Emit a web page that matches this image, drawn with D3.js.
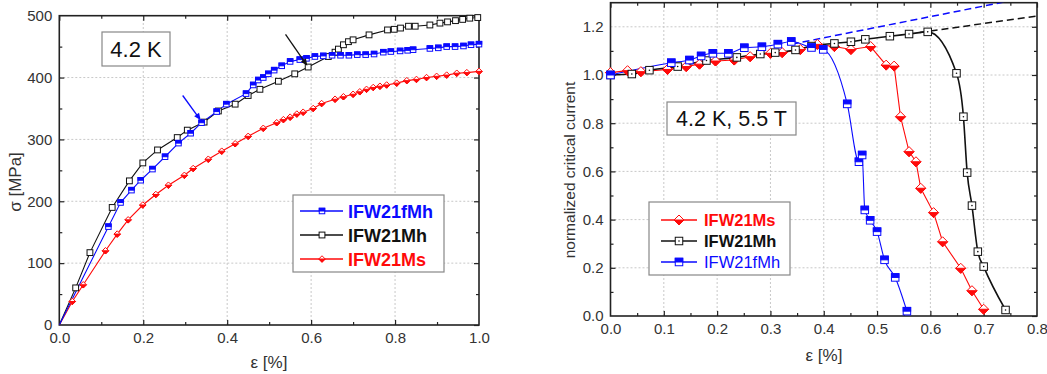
<!DOCTYPE html>
<html><head><meta charset="utf-8">
<script src="https://cdn.jsdelivr.net/npm/d3@7"></script>
<style>
body{margin:0;background:#fff;}
svg{display:block;}
text{font-family:"Liberation Sans",Arial,sans-serif;}
</style>
</head><body>
<svg id="c" width="1047" height="374"></svg>
<script>
// ---------- DATA: left panel (stress-strain, 4.2 K) ----------
const stressXTicks = [0, 0.2, 0.4, 0.6, 0.8, 1.0];
const stressYTicks = [0, 100, 200, 300, 400, 500];
const stressSeriesNames = ["IFW21fMh", "IFW21Mh", "IFW21Ms"];
const stressMh = [[0,0],[0.039,60],[0.073,117],[0.126,190],[0.167,233],[0.199,262],[0.234,283],[0.281,303],[0.305,315],[0.345,328],[0.379,346],[0.419,357],[0.450,371],[0.478,381],[0.522,394],[0.561,406],[0.593,417],[0.641,434],[0.657,441],[0.665,446],[0.677,453],[0.689,458],[0.700,461],[0.738,469],[0.782,477],[0.798,478],[0.813,480],[0.832,483],[0.848,483],[0.883,485],[0.907,488],[0.925,490],[0.944,492],[0.961,494],[0.978,496],[0.997,497]];
const stressFMh = [[0,0],[0.117,159],[0.146,198],[0.172,218],[0.194,234],[0.222,252],[0.252,272],[0.284,294],[0.313,310],[0.339,327],[0.375,345],[0.398,357],[0.445,374],[0.462,388],[0.474,396],[0.486,400],[0.498,406],[0.512,412],[0.530,419],[0.550,426],[0.573,429],[0.589,431],[0.609,434],[0.629,435],[0.650,436],[0.670,436],[0.690,436],[0.710,437],[0.730,437],[0.750,438],[0.772,441],[0.790,442],[0.812,443],[0.830,444],[0.843,445],[0.883,447],[0.903,448],[0.923,450],[0.943,450],[0.963,451],[0.981,453],[1.0,454]];
const stressMs = [[0,0],[0.031,38],[0.057,65],[0.110,120],[0.138,147],[0.164,170],[0.199,194],[0.230,211],[0.260,226],[0.298,242],[0.319,253],[0.355,268],[0.387,281],[0.419,293],[0.450,305],[0.486,318],[0.518,327],[0.534,332],[0.550,336],[0.566,341],[0.581,344],[0.605,350],[0.625,358],[0.657,365],[0.677,369],[0.700,373],[0.716,377],[0.732,381],[0.748,384],[0.764,386],[0.780,388],[0.804,391],[0.828,395],[0.851,397],[0.875,400],[0.899,402],[0.923,404],[0.947,407],[0.971,408],[1.0,410]];
const arrowFMh = [[0.294,371],[0.337,331]];
const arrowMh = [[0.539,470],[0.591,419]];

// ---------- DATA: right panel (normalized Ic, 4.2 K, 5.5 T) ----------
const icXTicks = [0, 0.1, 0.2, 0.3, 0.4, 0.5, 0.6, 0.7, 0.8];
const icYTicks = [0, 0.2, 0.4, 0.6, 0.8, 1.0, 1.2];
const icSeriesNames = ["IFW21Ms", "IFW21Mh", "IFW21fMh"];
const icMs = [[0,1.01],[0.032,1.018],[0.057,1.014],[0.107,1.023],[0.142,1.035],[0.167,1.045],[0.197,1.058],[0.232,1.062],[0.262,1.076],[0.300,1.090],[0.322,1.093],[0.356,1.106],[0.388,1.127],[0.420,1.118],[0.451,1.106],[0.488,1.118],[0.517,1.041],[0.532,1.037],[0.544,0.827],[0.560,0.682],[0.573,0.640],[0.582,0.530],[0.606,0.429],[0.623,0.308],[0.657,0.198],[0.678,0.105],[0.700,0.028]];
const icMh = [[0,1.0],[0.040,1.004],[0.073,1.020],[0.126,1.035],[0.180,1.060],[0.237,1.073],[0.281,1.087],[0.309,1.093],[0.347,1.104],[0.377,1.120],[0.420,1.131],[0.451,1.138],[0.478,1.148],[0.524,1.161],[0.560,1.170],[0.595,1.179],[0.649,1.007],[0.662,0.827],[0.669,0.595],[0.678,0.458],[0.689,0.267],[0.700,0.205],[0.741,0.025]];
const icFMh = [[0,1.0],[0.114,1.051],[0.148,1.062],[0.170,1.079],[0.192,1.090],[0.221,1.090],[0.251,1.113],[0.284,1.117],[0.314,1.128],[0.339,1.139],[0.377,1.114],[0.399,1.106],[0.444,0.880],[0.466,0.640],[0.472,0.668],[0.477,0.440],[0.487,0.397],[0.500,0.350],[0.514,0.233],[0.534,0.160],[0.556,0.020]];
const extrapFMh = [[0.34,1.128],[0.8,1.33]];
const extrapMh = [[0.58,1.176],[0.8,1.245]];

// ---------- drawing ----------
const BLUE = "#0a0aff", RED = "#ff0a0a", BLACK = "#111";
const svg = d3.select("#c");
const defs = svg.append("defs");

function marker(g, type, x, y, color, s) {
  const h = s / 2;
  if (type === "sq" || type === "sqDot" || type === "sqHalf") {
    g.append("rect").attr("x", x - h).attr("y", y - h).attr("width", s).attr("height", s)
      .attr("fill", "#fff").attr("stroke", color).attr("stroke-width", 1);
    if (type === "sqHalf") {
      g.append("rect").attr("x", x - h).attr("y", y - h).attr("width", s).attr("height", h)
        .attr("fill", color).attr("stroke", color).attr("stroke-width", 1);
    }
    if (type === "sqDot") {
      g.append("circle").attr("cx", x).attr("cy", y).attr("r", 0.8).attr("fill", color);
    }
  } else if (type === "dia") {
    const w = s / 2, hh = s / 2;
    g.append("path").attr("d", `M${x},${y-hh}L${x+w},${y}L${x},${y+hh}L${x-w},${y}Z`)
      .attr("fill", "#fff").attr("stroke", color).attr("stroke-width", 1);
    g.append("path").attr("d", `M${x-w},${y}L${x+w},${y}L${x},${y+hh}Z`)
      .attr("fill", color).attr("stroke", color).attr("stroke-width", 1);
  }
}

function panel(opt) {
  const x = d3.scaleLinear().domain(opt.xDomain).range(opt.xRange);
  const y = d3.scaleLinear().domain(opt.yDomain).range(opt.yRange);
  const g = svg.append("g");
  const clipId = "clip" + opt.id;
  defs.append("clipPath").attr("id", clipId).append("rect")
    .attr("x", opt.xRange[0]).attr("y", opt.yRange[1])
    .attr("width", opt.xRange[1] - opt.xRange[0]).attr("height", opt.yRange[0] - opt.yRange[1]);

  // grid
  const gg = g.append("g").attr("stroke", "#c8c8c8").attr("stroke-width", 1).attr("stroke-dasharray", "2,2");
  opt.xTicks.slice(1, -1).forEach(t => gg.append("line").attr("x1", x(t)).attr("x2", x(t)).attr("y1", opt.yRange[0]).attr("y2", opt.yRange[1]));
  opt.yGrid.forEach(t => gg.append("line").attr("y1", y(t)).attr("y2", y(t)).attr("x1", opt.xRange[0]).attr("x2", opt.xRange[1]));

  // axes
  const fmtX = d3.format(".1f"), fmtY = opt.fmtY;
  const axB = g.append("g").attr("transform", `translate(0,${opt.yRange[0]})`)
    .call(d3.axisBottom(x).tickValues(opt.xTicks).tickFormat(fmtX).tickSize(-5).tickPadding(opt.xPad));
  const axBm = g.append("g").attr("transform", `translate(0,${opt.yRange[0]})`)
    .call(d3.axisBottom(x).tickValues(opt.xMinor).tickFormat("").tickSize(-3));
  const axT = g.append("g").attr("transform", `translate(0,${opt.yRange[1]})`)
    .call(d3.axisTop(x).tickValues(opt.xTicks).tickFormat("").tickSize(-5));
  const axTm = g.append("g").attr("transform", `translate(0,${opt.yRange[1]})`)
    .call(d3.axisTop(x).tickValues(opt.xMinor).tickFormat("").tickSize(-3));
  const axL = g.append("g").attr("transform", `translate(${opt.xRange[0]},0)`)
    .call(d3.axisLeft(y).tickValues(opt.yTicks).tickFormat(fmtY).tickSize(-5).tickPadding(opt.yPad));
  const axLm = g.append("g").attr("transform", `translate(${opt.xRange[0]},0)`)
    .call(d3.axisLeft(y).tickValues(opt.yMinor).tickFormat("").tickSize(-3));
  const axR = g.append("g").attr("transform", `translate(${opt.xRange[1]},0)`)
    .call(d3.axisRight(y).tickValues(opt.yTicks).tickFormat("").tickSize(-5));
  const axRm = g.append("g").attr("transform", `translate(${opt.xRange[1]},0)`)
    .call(d3.axisRight(y).tickValues(opt.yMinor).tickFormat("").tickSize(-3));
  [axB, axBm, axT, axTm, axL, axLm, axR, axRm].forEach(a => {
    a.select(".domain").remove();
    a.selectAll(".tick line").attr("stroke", "#222").attr("stroke-width", 1.2);
    a.selectAll("text").attr("font-size", 15).attr("fill", "#333").attr("font-family", '"Liberation Sans",Arial,sans-serif');
  });
  axB.selectAll(".tick line").filter((d, i) => i === 0 || i === opt.xTicks.length - 1).remove();
  axL.selectAll(".tick line").filter((d, i) => i === 0 || i === opt.yTicks.length - 1).remove();

  // frame
  g.append("rect").attr("x", opt.xRange[0]).attr("y", opt.yRange[1])
    .attr("width", opt.xRange[1] - opt.xRange[0]).attr("height", opt.yRange[0] - opt.yRange[1])
    .attr("fill", "none").attr("stroke", "#222").attr("stroke-width", 1.6);

  // axis titles
  g.append("text").attr("x", opt.xTitlePos[0]).attr("y", opt.xTitlePos[1]).attr("text-anchor", "middle")
    .attr("font-size", 17).attr("fill", "#333").text(opt.xTitle);
  g.append("text").attr("transform", `translate(${opt.yTitlePos[0]},${opt.yTitlePos[1]}) rotate(-90)`)
    .attr("text-anchor", "middle").attr("font-size", opt.yTitleSize).attr("fill", "#333").text(opt.yTitle);

  const plot = g.append("g").attr("clip-path", `url(#${clipId})`);
  return { x, y, g, plot };
}

// ----- left panel -----
const L = panel({
  id: "L", xDomain: [0, 1], yDomain: [0, 500], xRange: [59.3, 479], yRange: [325, 15.7],
  xTicks: stressXTicks, yTicks: stressYTicks, yGrid: [100, 200, 300, 400],
  xMinor: [0.1, 0.3, 0.5, 0.7, 0.9], yMinor: [50, 150, 250, 350, 450],
  fmtY: d3.format("d"), xPad: 7, yPad: 7,
  xTitle: "ε [%]", xTitlePos: [269, 368], yTitle: "σ [MPa]", yTitlePos: [21, 182], yTitleSize: 17
});
const lineL = d3.line().x(d => L.x(d[0])).y(d => L.y(d[1]));
const leftSeries = [
  { data: stressMs, color: RED, type: "dia", size: 6.5 },
  { data: stressMh, color: BLACK, type: "sq", size: 5.8 },
  { data: stressFMh, color: BLUE, type: "sqHalf", size: 5.5 }
];
leftSeries.forEach(s => {
  L.plot.append("path").attr("d", lineL(s.data)).attr("fill", "none").attr("stroke", s.color).attr("stroke-width", 1.1);
});
leftSeries.forEach(s => {
  const mg = L.g.append("g");
  s.data.slice(1).forEach(d => marker(mg, s.type, L.x(d[0]), L.y(d[1]), s.color, s.size));
});
// arrows
function arrow(g, sc, pts, color) {
  const x1 = sc.x(pts[0][0]), y1 = sc.y(pts[0][1]), x2 = sc.x(pts[1][0]), y2 = sc.y(pts[1][1]);
  const a = Math.atan2(y2 - y1, x2 - x1), len = 7, wid = 3;
  g.append("line").attr("x1", x1).attr("y1", y1).attr("x2", x2 - Math.cos(a) * 4).attr("y2", y2 - Math.sin(a) * 4)
    .attr("stroke", color).attr("stroke-width", 1.3);
  const bx = x2 - Math.cos(a) * len, by = y2 - Math.sin(a) * len;
  g.append("path").attr("d", `M${x2},${y2}L${bx - Math.sin(a) * wid},${by + Math.cos(a) * wid}L${bx + Math.sin(a) * wid},${by - Math.cos(a) * wid}Z`)
    .attr("fill", color);
}
arrow(L.g, L, arrowFMh, BLUE);
arrow(L.g, L, arrowMh, BLACK);

// label box
L.g.append("rect").attr("x", 102).attr("y", 32).attr("width", 68).attr("height", 34)
  .attr("fill", "#fff").attr("stroke", "#888").attr("stroke-width", 1.2);
L.g.append("text").attr("x", 136).attr("y", 57).attr("text-anchor", "middle").attr("font-size", 22).attr("fill", "#111").text("4.2 K");

// legend left
L.g.append("rect").attr("x", 293).attr("y", 195).attr("width", 151).attr("height", 77)
  .attr("fill", "#fff").attr("stroke", "#888").attr("stroke-width", 1.2);
const legL = [
  { name: stressSeriesNames[0], s: leftSeries[2], y: 211 },
  { name: stressSeriesNames[1], s: leftSeries[1], y: 235 },
  { name: stressSeriesNames[2], s: leftSeries[0], y: 259 }
];
legL.forEach(e => {
  L.g.append("line").attr("x1", 300).attr("x2", 343).attr("y1", e.y).attr("y2", e.y).attr("stroke", e.s.color).attr("stroke-width", 1.3);
  marker(L.g, e.s.type, 322, e.y, e.s.color, e.s.size);
  L.g.append("text").attr("x", 348).attr("y", e.y + 6.5).attr("font-size", 18).attr("font-weight", "bold")
    .attr("fill", e.s.color).text(e.name);
});

// ----- right panel -----
const R = panel({
  id: "R", xDomain: [0, 0.8], yDomain: [0, 1.3], xRange: [610.5, 1037], yRange: [316, 2.7],
  xTicks: icXTicks, yTicks: icYTicks, yGrid: [0.2, 0.4, 0.6, 0.8, 1.0, 1.2],
  xMinor: [0.05, 0.15, 0.25, 0.35, 0.45, 0.55, 0.65, 0.75], yMinor: [0.1, 0.3, 0.5, 0.7, 0.9, 1.1],
  fmtY: d3.format(".1f"), xPad: 7, yPad: 7,
  xTitle: "ε [%]", xTitlePos: [824, 361], yTitle: "normalized critical current", yTitlePos: [575, 170], yTitleSize: 15.5
});
const lineR = d3.line().x(d => R.x(d[0])).y(d => R.y(d[1]));
const lineRs = d3.line().x(d => R.x(d[0])).y(d => R.y(d[1])).curve(d3.curveMonotoneX);
R.plot.append("path").attr("d", lineR(extrapFMh)).attr("fill", "none").attr("stroke", BLUE).attr("stroke-width", 1.5).attr("stroke-dasharray", "7,4");
R.plot.append("path").attr("d", lineR(extrapMh)).attr("fill", "none").attr("stroke", BLACK).attr("stroke-width", 1.5).attr("stroke-dasharray", "7,4");
const rightSeries = [
  { data: icMs, color: RED, type: "dia", size: 10, line: lineR, w: 1.1 },
  { data: icMh, color: BLACK, type: "sqDot", size: 7.5, line: lineRs, w: 1.6 },
  { data: icFMh, color: BLUE, type: "sqHalf", size: 7.5, line: lineRs, w: 1.1 }
];
rightSeries.forEach(s => {
  R.plot.append("path").attr("d", s.line(s.data)).attr("fill", "none").attr("stroke", s.color).attr("stroke-width", s.w);
});
rightSeries.forEach(s => {
  const mg = R.g.append("g");
  s.data.forEach(d => marker(mg, s.type, R.x(d[0]), R.y(d[1]), s.color, s.size));
});

// label box right
R.g.append("rect").attr("x", 667).attr("y", 102).attr("width", 129).attr("height", 33)
  .attr("fill", "#fff").attr("stroke", "#888").attr("stroke-width", 1.2);
R.g.append("text").attr("x", 731.5).attr("y", 126).attr("text-anchor", "middle").attr("font-size", 21.5).attr("fill", "#111").text("4.2 K, 5.5 T");

// legend right
R.g.append("rect").attr("x", 649).attr("y", 202).attr("width", 141).attr("height", 73)
  .attr("fill", "#fff").attr("stroke", "#888").attr("stroke-width", 1.2);
const legR = [
  { name: icSeriesNames[0], s: rightSeries[0], y: 220, bold: true },
  { name: icSeriesNames[1], s: rightSeries[1], y: 241, bold: true },
  { name: icSeriesNames[2], s: rightSeries[2], y: 262, bold: false }
];
legR.forEach(e => {
  R.g.append("line").attr("x1", 661).attr("x2", 697).attr("y1", e.y).attr("y2", e.y).attr("stroke", e.s.color).attr("stroke-width", 1.3);
  marker(R.g, e.s.type, 679, e.y, e.s.color, e.s.size);
  R.g.append("text").attr("x", 704).attr("y", e.y + 6).attr("font-size", 16.5).attr("font-weight", e.bold ? "bold" : "normal")
    .attr("fill", e.s.color).text(e.name);
});
</script>
</body></html>
